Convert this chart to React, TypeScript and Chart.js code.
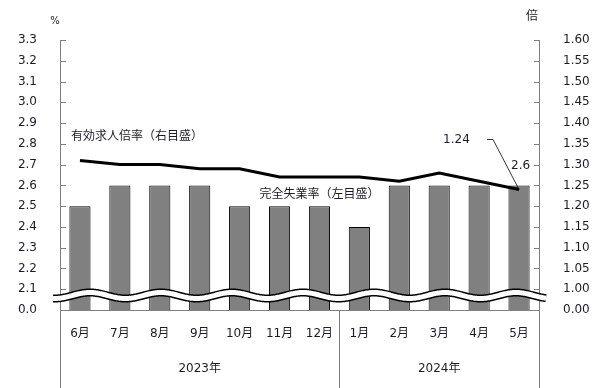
import React, { useEffect, useRef } from "react";
import { Chart, registerables } from "chart.js";

Chart.register(...registerables);

const months = ["6月", "7月", "8月", "9月", "10月", "11月", "12月", "1月", "2月", "3月", "4月", "5月"];
const years = ["2023年", "2024年"];
const yearSpans = [7, 5];
const unemployment = [2.5, 2.6, 2.6, 2.6, 2.5, 2.5, 2.5, 2.4, 2.6, 2.6, 2.6, 2.6];
const jobsRatio = [1.31, 1.30, 1.30, 1.29, 1.29, 1.27, 1.27, 1.27, 1.26, 1.28, 1.26, 1.24];
const leftBreakLabel = "0.0";
const rightBreakLabel = "0.00";
const leftUnit = "%";
const rightUnit = "倍";
const lineLabel = "有効求人倍率（右目盛）";
const barLabel = "完全失業率（左目盛）";

const FONT = "'DejaVu Sans', 'Noto Sans CJK JP', sans-serif";
const TEXT = "#1c1c28";
const AXIS = "#808080";

const overlayPlugin = {
  id: "overlay",
  beforeDatasetsDraw(chart: any) {
    const ctx = chart.ctx;
    const { left, right, bottom } = chart.chartArea;
    const y = chart.scales.y;
    const y1 = chart.scales.y1;
    ctx.save();
    ctx.strokeStyle = AXIS;
    ctx.lineWidth = 1;
    y.ticks.forEach((t: any) => {
      const py = Math.round(y.getPixelForValue(t.value)) + 0.5;
      if (Math.abs(py - bottom) < 2) return;
      ctx.beginPath();
      ctx.moveTo(left, py);
      ctx.lineTo(left + 6, py);
      ctx.stroke();
    });
    y1.ticks.forEach((t: any) => {
      const py = Math.round(y1.getPixelForValue(t.value)) + 0.5;
      if (Math.abs(py - bottom) < 2) return;
      ctx.beginPath();
      ctx.moveTo(right - 5, py);
      ctx.lineTo(right, py);
      ctx.stroke();
    });
    ctx.restore();
  },
  afterDatasetsDraw(chart: any) {
    const ctx = chart.ctx;
    const { left, right, bottom } = chart.chartArea;
    const x = chart.scales.x;
    const y = chart.scales.y;
    const y1 = chart.scales.y1;
    const H = chart.height;
    ctx.save();

    // break wave
    const cy = bottom - 14.5;
    const amp = 3;
    const period = 71;
    const x0 = left - 7;
    const x1 = right + 7;
    const wave = () => {
      ctx.beginPath();
      for (let px = x0; px <= x1; px += 1) {
        const py = cy - amp * Math.cos((2 * Math.PI * (px - 90)) / period);
        if (px === x0) ctx.moveTo(px, py);
        else ctx.lineTo(px, py);
      }
    };
    ctx.lineCap = "butt";
    wave();
    ctx.strokeStyle = "#000";
    ctx.lineWidth = 8;
    ctx.stroke();
    wave();
    ctx.strokeStyle = "#fff";
    ctx.lineWidth = 5;
    ctx.stroke();

    // separators below axis
    ctx.strokeStyle = AXIS;
    ctx.lineWidth = 1;
    let idx = 0;
    const seps = [0];
    yearSpans.forEach((s) => {
      idx += s;
      seps.push(idx);
    });
    const step = (right - left) / months.length;
    seps.forEach((i) => {
      const px = Math.round(left + step * i) + 0.5;
      ctx.beginPath();
      ctx.moveTo(px, bottom);
      ctx.lineTo(px, H);
      ctx.stroke();
    });

    // year labels
    ctx.fillStyle = TEXT;
    ctx.font = `12px ${FONT}`;
    ctx.textAlign = "center";
    ctx.textBaseline = "middle";
    let start = 0;
    years.forEach((yl, i) => {
      const mid = left + step * (start + yearSpans[i] / 2);
      ctx.fillText(yl, mid, bottom + 59);
      start += yearSpans[i];
    });

    // unit labels
    ctx.font = `10px ${FONT}`;
    ctx.fillText(leftUnit, left - 5, y.top - 19);
    ctx.font = `12px ${FONT}`;
    ctx.fillText(rightUnit, right - 7, y1.top - 23);

    // series annotations
    ctx.textAlign = "left";
    ctx.fillText(lineLabel, left + 11, y1.getPixelForValue(jobsRatio[0]) - 24);
    ctx.fillText(barLabel, x.getPixelForValue(4.5), y.getPixelForValue(unemployment[6]) - 11);

    const n = months.length - 1;
    const lx = x.getPixelForValue(n);
    const ly = y1.getPixelForValue(jobsRatio[n]);
    ctx.fillText(jobsRatio[n].toFixed(2), lx - 76, ly - 50);
    ctx.strokeStyle = "#000";
    ctx.lineWidth = 0.8;
    ctx.beginPath();
    ctx.moveTo(lx - 32, ly - 50);
    ctx.lineTo(lx - 26, ly - 50);
    ctx.lineTo(lx, ly);
    ctx.stroke();

    const by = y.getPixelForValue(unemployment[n]);
    ctx.fillText(unemployment[n].toFixed(1), lx - 8, by - 20);

    ctx.restore();
  },
};

export default function App() {
  const ref = useRef<HTMLCanvasElement | null>(null);
  useEffect(() => {
    if (!ref.current) return;
    const chart = new Chart(ref.current, {
      type: "bar",
      data: {
        labels: months,
        datasets: [
          {
            type: "line",
            label: lineLabel,
            data: jobsRatio,
            yAxisID: "y1",
            borderColor: "#000",
            borderWidth: 3,
            pointRadius: 0,
            tension: 0,
            order: 0,
          } as any,
          {
            type: "bar",
            label: barLabel,
            data: unemployment,
            yAxisID: "y",
            backgroundColor: "#808080",
            borderColor: "#000",
            borderWidth: 1,
            barPercentage: 0.53,
            categoryPercentage: 1,
            order: 1,
          },
        ],
      },
      options: {
        responsive: false,
        animation: false,
        devicePixelRatio: 1,
        layout: { padding: { top: 40, left: 0, right: 0, bottom: 0 } },
        plugins: { legend: { display: false }, tooltip: { enabled: false } },
        scales: {
          x: {
            grid: { display: false },
            border: { display: true, color: AXIS },
            ticks: { color: TEXT, font: { family: FONT, size: 12 }, padding: 9, maxRotation: 0, autoSkip: false },
            afterFit: (s: any) => {
              s.height = 78;
            },
          },
          y: {
            position: "left",
            min: 2.0,
            max: 3.3,
            grid: { display: false },
            border: { display: true, color: AXIS },
            ticks: {
              stepSize: 0.1,
              color: TEXT,
              font: { family: FONT, size: 12 },
              padding: 15,
              callback: (v: any) => (v < 2.05 ? leftBreakLabel : Number(v).toFixed(1)),
            },
            afterFit: (s: any) => {
              s.width = 60;
            },
          },
          y1: {
            position: "right",
            min: 0.95,
            max: 1.6,
            grid: { display: false },
            border: { display: true, color: AXIS },
            ticks: {
              stepSize: 0.05,
              color: TEXT,
              font: { family: FONT, size: 12 },
              padding: 16,
              callback: (v: any) => (v < 0.975 ? rightBreakLabel : Number(v).toFixed(2)),
            },
            afterFit: (s: any) => {
              s.width = 66;
            },
          },
        },
      },
      plugins: [overlayPlugin],
    });
    return () => chart.destroy();
  }, []);
  return (
    <div style={{ position: "fixed", left: 0, top: 0, width: 605, height: 388, background: "#fff" }}>
      <canvas ref={ref} width={605} height={388} />
    </div>
  );
}
